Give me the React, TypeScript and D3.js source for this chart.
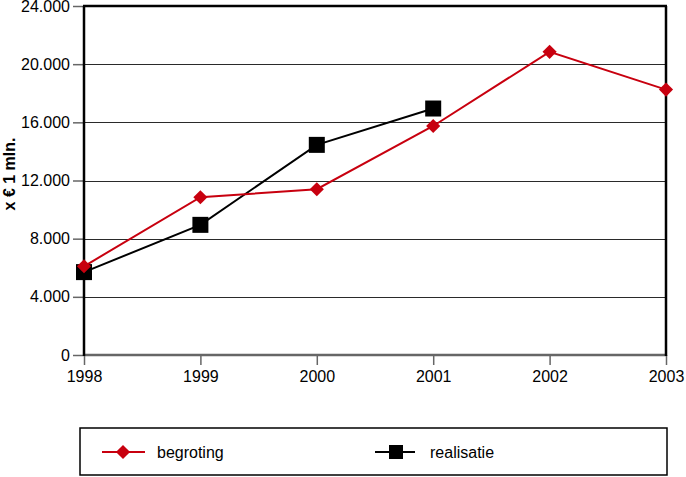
import React, { useRef, useEffect } from "react";
import * as d3 from "d3";

// years on the x axis
const years = [1998, 1999, 2000, 2001, 2002, 2003];
// x € 1 mln.
const begroting = [6100, 10850, 11400, 15750, 20850, 18250];
const realisatie = [5700, 8950, 14450, 16950];
const yTicks = [0, 4000, 8000, 12000, 16000, 20000, 24000];

const RED = "#c8000f";
const fmt = (v: number) => (v === 0 ? "0" : d3.format(",")(v).replace(/,/g, "."));

const App = () => {
  const svgRef = useRef<SVGSVGElement>(null);

  useEffect(() => {
    const svg = d3.select(svgRef.current);
    svg.selectAll("*").remove();

    const left = 84, right = 666, top = 6, bottom = 355;
    const x = d3.scaleLinear().domain([1998, 2003]).range([left, right]);
    const y = d3.scaleLinear().domain([0, 24000]).range([bottom, top]);
    const font = "'Liberation Sans', Arial, sans-serif";

    // grid lines
    svg.append("g")
      .selectAll("line")
      .data(yTicks.filter(d => d > 0 && d < 24000))
      .join("line")
      .attr("x1", left).attr("x2", right)
      .attr("y1", d => Math.round(y(d)) + 0.5).attr("y2", d => Math.round(y(d)) + 0.5)
      .attr("stroke", "#2a2a2a").attr("stroke-width", 1);

    // y axis
    const yAxis = svg.append("g")
      .attr("transform", `translate(${left},0)`)
      .call(d3.axisLeft(y).tickValues(yTicks).tickFormat(d => fmt(+d)).tickSize(11).tickPadding(3));
    yAxis.select(".domain").remove();
    yAxis.selectAll("line").attr("stroke", "#666").attr("stroke-width", 1.5);
    yAxis.selectAll("text").attr("font-family", font).attr("font-size", 16).attr("fill", "#000");

    // x axis
    const xAxis = svg.append("g")
      .attr("transform", `translate(0,${bottom})`)
      .call(d3.axisBottom(x).tickValues(years).tickFormat(d3.format("d")).tickSize(10).tickPadding(6));
    xAxis.select(".domain").remove();
    xAxis.selectAll("line").attr("stroke", "#666").attr("stroke-width", 1.5);
    xAxis.selectAll("text").attr("font-family", font).attr("font-size", 16).attr("fill", "#000");

    // frame
    svg.append("line").attr("x1", left).attr("x2", right).attr("y1", bottom).attr("y2", bottom)
      .attr("stroke", "#666").attr("stroke-width", 2.5);
    svg.append("line").attr("x1", left - 1).attr("x2", right + 1).attr("y1", top).attr("y2", top)
      .attr("stroke", "#000").attr("stroke-width", 2.5);
    svg.append("line").attr("x1", left).attr("x2", left).attr("y1", top).attr("y2", bottom + 1)
      .attr("stroke", "#000").attr("stroke-width", 2.5);
    svg.append("line").attr("x1", right).attr("x2", right).attr("y1", top).attr("y2", bottom + 1)
      .attr("stroke", "#000").attr("stroke-width", 2.5);

    // y title
    svg.append("text")
      .attr("transform", `translate(15,174) rotate(-90)`)
      .attr("text-anchor", "middle")
      .attr("font-family", font).attr("font-size", 16).attr("font-weight", "bold")
      .text("x € 1 mln.");

    const line = d3.line<number>().x((d, i) => x(years[i])).y(d => y(d));

    // realisatie
    svg.append("path").datum(realisatie)
      .attr("fill", "none").attr("stroke", "#000").attr("stroke-width", 2).attr("d", line);
    // begroting
    svg.append("path").datum(begroting)
      .attr("fill", "none").attr("stroke", RED).attr("stroke-width", 2).attr("d", line);

    const diamond = d3.symbol().type(d3.symbolSquare).size(100);
    svg.append("g").selectAll("rect")
      .data(realisatie)
      .join("rect")
      .attr("x", (d, i) => x(years[i]) - 8).attr("y", d => y(d) - 8)
      .attr("width", 16).attr("height", 16).attr("fill", "#000");
    svg.append("g").selectAll("path")
      .data(begroting)
      .join("path")
      .attr("transform", (d, i) => `translate(${x(years[i])},${y(d)}) rotate(45)`)
      .attr("d", diamond).attr("fill", RED);

    // legend
    const lg = svg.append("g");
    lg.append("rect").attr("x", 80).attr("y", 428).attr("width", 587).attr("height", 47)
      .attr("fill", "none").attr("stroke", "#000").attr("stroke-width", 1.5);
    lg.append("line").attr("x1", 102).attr("x2", 145).attr("y1", 452).attr("y2", 452)
      .attr("stroke", RED).attr("stroke-width", 2);
    lg.append("path").attr("transform", "translate(123,452) rotate(45)").attr("d", diamond).attr("fill", RED);
    lg.append("text").attr("x", 157).attr("y", 458).attr("font-family", font).attr("font-size", 16)
      .text("begroting");
    lg.append("line").attr("x1", 375).attr("x2", 415).attr("y1", 452).attr("y2", 452)
      .attr("stroke", "#000").attr("stroke-width", 2);
    lg.append("rect").attr("x", 389).attr("y", 445).attr("width", 14).attr("height", 14).attr("fill", "#000");
    lg.append("text").attr("x", 430).attr("y", 458).attr("font-family", font).attr("font-size", 16)
      .text("realisatie");
  }, []);

  return (
    <svg ref={svgRef} width={686} height={477}
      style={{ position: "absolute", left: 0, top: 0, background: "#fff" }} />
  );
};

export default App;
